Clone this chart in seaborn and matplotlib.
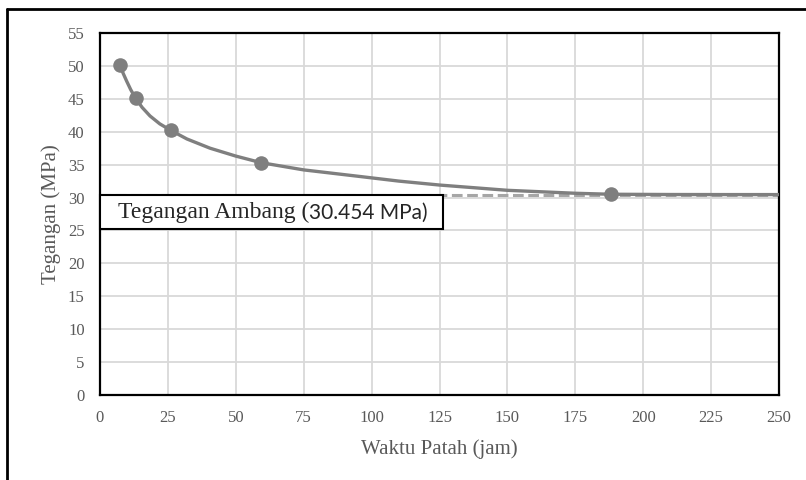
import matplotlib
matplotlib.use("Agg")
import matplotlib.pyplot as plt
import seaborn as sns
import pandas as pd
from matplotlib.lines import Line2D
from matplotlib.patches import Rectangle

# data points (waktu patah, tegangan)
waktu = [7.4, 13.1, 26.1, 59.3, 188.0]
tegangan = [50.1, 45.1, 40.2, 35.3, 30.5]

# fitted curve
kurva_t = [7.4, 8.5, 9.8, 11.3, 13.1, 15.5, 18.4, 22.0, 26.1, 32.0, 40.5, 50.0, 59.3,
           75.0, 95.7, 110.0, 125.0, 150.0, 175.0, 188.0, 210.0, 230.0, 250.0]
kurva_s = [50.1, 48.9, 47.7, 46.4, 45.1, 43.7, 42.4, 41.2, 40.2, 38.9, 37.5, 36.3, 35.3,
           34.2, 33.2, 32.5, 31.9, 31.1, 30.65, 30.5, 30.46, 30.45, 30.45]

ambang = 30.454
label_serif = "Tegangan Ambang ("
label_sans = "30.454 MPa)"

sns.set_style("white")
plt.rcParams["font.family"] = ["Liberation Serif", "DejaVu Serif"]

fig = plt.figure(figsize=(8.06, 4.8), dpi=100)
ax = fig.add_axes([100 / 806, 1 - 395 / 480, 679 / 806, 362 / 480])

grey_txt = "#595959"
line_col = "#7f7f7f"

# dashed threshold line
ax.axhline(ambang, color="#a6a6a6", lw=2.2, ls=(0, (3.5, 1.5)), zorder=2)

curve = pd.DataFrame({"t": kurva_t, "s": kurva_s})
sns.lineplot(data=curve, x="t", y="s", ax=ax, color=line_col, lw=2.4,
             sort=False, zorder=3)

pts = pd.DataFrame({"t": waktu, "s": tegangan})
sns.scatterplot(data=pts, x="t", y="s", ax=ax, color=line_col, s=110,
                edgecolor=line_col, linewidth=0, zorder=4)

ax.set_xlim(0, 250)
ax.set_ylim(0, 55)
ax.set_xticks(range(0, 251, 25))
ax.set_yticks(range(0, 56, 5))
ax.grid(True, color="#d9d9d9", lw=1.3)
ax.set_axisbelow(True)

for sp in ax.spines.values():
    sp.set_color("black")
    sp.set_linewidth(1.6)
    sp.set_visible(True)

ax.tick_params(axis="both", direction="out", length=5, width=1.3,
               color="black", labelcolor=grey_txt, labelsize=12, pad=6)
ax.tick_params(axis="x", top=False)
ax.tick_params(axis="y", right=False)

ax.set_xlabel("Waktu Patah (jam)", fontsize=15, color=grey_txt, labelpad=9)
ax.set_ylabel("Tegangan (MPa)", fontsize=15, color=grey_txt, labelpad=5)

# label box
box = Rectangle((0, 25.2), 126.3, ambang - 25.2, facecolor="white",
                edgecolor="black", lw=1.5, zorder=5, clip_on=False)
ax.add_patch(box)
t1 = ax.text(6.5, 27.7, label_serif, fontsize=17, color="#262626",
             va="center", ha="left", zorder=6,
             family=["Liberation Serif", "DejaVu Serif"])
fig.canvas.draw()
bb = t1.get_window_extent()
x_end = ax.transData.inverted().transform((bb.x1, bb.y0))[0]
ax.text(x_end, 27.7, label_sans, fontsize=15, color="#262626",
        va="center", ha="left", zorder=6, family=["Lato", "DejaVu Sans"])

# outer border (left and top only, rest cropped)
fig.add_artist(Line2D([7 / 806, 7 / 806], [0, 1 - 9 / 480], color="black", lw=2))
fig.add_artist(Line2D([7 / 806, 1], [1 - 9 / 480, 1 - 9 / 480], color="black", lw=2))

fig.savefig("out.png", dpi=100)
